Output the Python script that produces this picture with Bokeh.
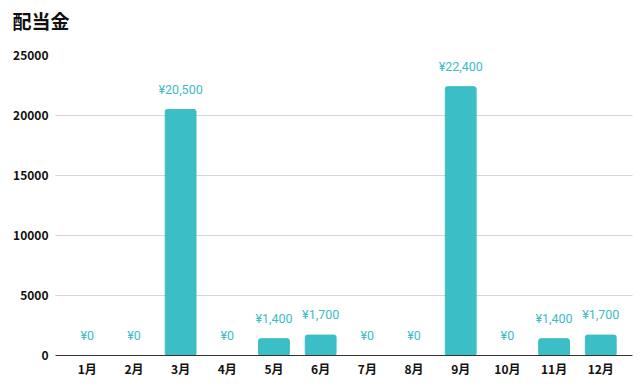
from bokeh.plotting import figure
from bokeh.models import ColumnDataSource, FactorRange, Range1d, FixedTicker, LabelSet, Title
from bokeh.core.properties import value
from bokeh.embed import file_html
from bokeh.resources import INLINE

months = ["1月", "2月", "3月", "4月", "5月", "6月", "7月", "8月", "9月", "10月", "11月", "12月"]
values = [0, 0, 20500, 0, 1400, 1700, 0, 0, 22400, 0, 1400, 1700]
y_ticks = [0, 5000, 10000, 15000, 20000, 25000]
title_text = "配当金"

labels = ["¥{:,}".format(v) for v in values]
source = ColumnDataSource(dict(m=months, v=values, lab=labels))

p = figure(frame_width=577, frame_height=300,
           x_range=FactorRange(*months, range_padding=0.18, range_padding_units="absolute"),
           y_range=Range1d(0, 25000), output_backend="svg", toolbar_location=None,
           min_border_left=55, min_border_right=4, min_border_top=0,
           min_border_bottom=0)

# spacer between title and plot area
p.add_layout(Title(text=" ", text_font_size="1px", standoff=15), "above")
p.add_layout(Title(text=title_text, text_font="Noto Sans CJK JP", text_font_size="19px",
                   text_font_style="bold", text_color="#111111", offset=-43,
                   standoff=8), "above")

p.vbar(x="m", top="v", width=0.66, source=source, fill_color="#3BBEC6",
       line_color="#3BBEC6", border_radius=2)

p.add_layout(LabelSet(x="m", y="v", text="lab", source=source, y_offset=13,
                      text_align="center", text_baseline="bottom",
                      text_font_size=value("12.5px"), text_font=value("Roboto"),
                      text_color="#3BBCC8"))

p.outline_line_color = None
p.xgrid.grid_line_color = None
p.ygrid.grid_line_color = "#aaaaaa"
p.ygrid.grid_line_dash = "1 1"
p.yaxis.ticker = FixedTicker(ticks=y_ticks)
p.yaxis.axis_line_color = None
p.yaxis.major_tick_line_color = None
p.yaxis.minor_tick_line_color = None
p.yaxis.major_tick_out = 0
p.yaxis.major_label_standoff = 7
p.xaxis.axis_line_color = "#333333"
p.xaxis.major_tick_line_color = None
p.xaxis.major_tick_out = 0
p.xaxis.major_label_standoff = 4
for ax in (p.xaxis, p.yaxis):
    ax.major_label_text_font = "Noto Sans CJK JP"
    ax.major_label_text_font_style = "bold"
    ax.major_label_text_font_size = "12px"
    ax.major_label_text_color = "#111111"

open("out.html", "w").write(file_html(p, INLINE))
